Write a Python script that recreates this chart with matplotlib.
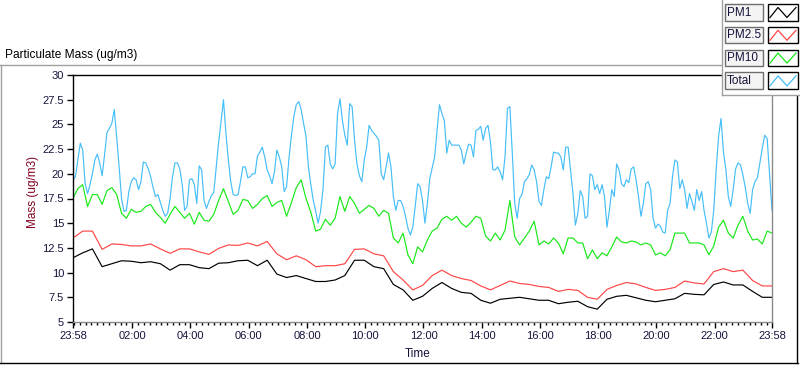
import numpy as np
import matplotlib.pyplot as plt
from matplotlib.lines import Line2D
from matplotlib.patches import Rectangle

plt.rcParams['font.family'] = ['Liberation Sans', 'DejaVu Sans']

# values, x = minutes after 23:58
# Total: one value every 5 minutes (12 per hour)
total = [
    19.4, 19.7, 21.4, 23.1, 22.4, 19.0, 18.0, 18.9, 20.0, 21.4, 22.0, 21.1,
    19.8, 21.9, 24.2, 24.6, 25.1, 26.5, 23.7, 20.7, 17.5, 16.2, 16.3, 18.2,
    19.2, 19.6, 19.4, 18.4, 19.2, 21.2, 21.1, 20.5, 19.7, 18.6, 17.7, 17.9,
    17.1, 16.3, 15.7, 16.0, 17.5, 19.7, 21.1, 21.1, 20.5, 18.9, 16.3, 16.7,
    19.4, 19.5, 18.9, 17.0, 20.8, 20.4, 17.3, 16.5, 17.2, 17.8, 18.1, 20.7,
    23.2, 25.3, 27.5, 24.1, 21.4, 19.2, 17.9, 17.8, 17.9, 19.2, 20.7, 20.7,
    19.6, 19.7, 20.0, 20.0, 21.8, 22.2, 22.7, 21.7, 20.4, 19.8, 19.0, 20.2,
    22.4, 21.7, 20.7, 18.2, 18.7, 21.6, 23.9, 25.8, 27.0, 27.3, 26.5, 25.1,
    23.8, 20.7, 18.9, 17.3, 16.2, 15.0, 16.2, 18.4, 22.7, 22.9, 21.0, 20.5,
    21.0, 26.1, 27.6, 25.4, 23.9, 22.9, 27.1, 26.8, 23.4, 21.0, 19.8, 19.2,
    21.4, 22.7, 24.9, 24.4, 24.1, 23.8, 23.4, 20.0, 19.4, 20.7, 22.1, 20.7,
    17.7, 16.3, 17.3, 17.3, 16.7, 15.7, 14.5, 13.8, 14.6, 16.7, 19.0, 18.7,
    17.3, 15.0, 17.0, 19.5, 20.6, 21.7, 24.3, 27.0, 26.1, 25.4, 22.1, 23.4,
    22.9, 22.9, 22.9, 22.9, 22.4, 21.0, 22.1, 23.0, 22.9, 21.7, 24.4, 24.5,
    24.8, 23.4, 24.6, 24.9, 23.2, 20.4, 20.4, 20.7, 20.2, 19.4, 21.7, 26.6,
    26.8, 22.1, 17.0, 15.5, 17.5, 17.9, 19.2, 19.5, 19.9, 20.9, 20.4, 19.2,
    17.2, 16.8, 18.4, 19.7, 19.5, 20.7, 22.2, 22.1, 22.1, 21.7, 20.4, 22.7,
    22.7, 20.4, 18.0, 14.8, 16.0, 18.3, 17.7, 15.5, 15.7, 20.0, 19.8, 18.4,
    18.9, 18.0, 18.9, 17.7, 14.6, 16.3, 18.4, 17.7, 21.0, 20.4, 19.0, 18.7,
    19.4, 19.1, 20.5, 20.7, 19.4, 17.7, 15.7, 17.0, 19.0, 19.2, 18.4, 15.5,
    14.5, 14.9, 14.7, 14.1, 14.0, 16.3, 17.0, 19.7, 21.4, 21.2, 18.5, 19.4,
    18.4, 16.5, 18.0, 17.2, 16.3, 18.4, 17.3, 18.2, 16.3, 15.0, 13.5, 14.1,
    16.3, 20.4, 23.8, 25.6, 22.2, 20.4, 17.7, 16.7, 18.4, 20.5, 21.1, 20.9,
    19.9, 18.6, 17.0, 16.0, 18.4, 19.2, 19.6, 21.1, 22.6, 23.9, 23.6, 20.0,
    16.3,
]

# PM10: one value every 10 minutes
pm10 = [
    17.5, 18.5, 18.9, 16.7, 17.9, 17.9,
    16.9, 18.3, 18.6, 17.9, 16.0, 15.5,
    16.4, 16.1, 16.2, 16.7, 16.9, 16.1,
    15.6, 15.0, 15.9, 16.7, 16.1, 15.5,
    16.0, 14.9, 16.1, 15.3, 15.2, 15.9,
    17.3, 18.5, 17.2, 15.9, 16.3, 17.4,
    17.3, 16.5, 16.9, 17.5, 17.8, 16.7,
    17.1, 17.3, 15.7, 17.1, 18.6, 19.4,
    17.5, 16.1, 14.2, 14.4, 15.4, 14.8,
    15.5, 17.7, 16.2, 17.7, 17.0, 16.0,
    16.4, 16.8, 16.5, 15.7, 16.3, 16.0,
    13.5, 13.0, 14.0, 11.8, 10.9, 12.6,
    12.1, 13.3, 14.2, 14.5, 15.4, 15.7,
    15.3, 15.7, 15.0, 14.6, 15.1, 15.7,
    15.5, 13.7, 13.2, 14.0, 13.3, 14.3,
    17.3, 13.6, 12.8, 13.5, 14.2, 15.2,
    12.8, 13.2, 12.9, 13.5, 13.0, 11.9,
    13.5, 13.5, 13.0, 13.0, 11.4, 12.3,
    11.4, 12.0, 11.7, 12.6, 13.6, 13.1,
    13.0, 13.2, 13.1, 12.8, 13.0, 12.8,
    11.8, 12.0, 11.7, 12.3, 14.0, 14.0,
    14.0, 13.0, 13.0, 13.0, 12.8, 11.8,
    12.7, 14.6, 15.3, 14.0, 13.5, 14.8,
    15.7, 14.2, 13.3, 13.4, 12.9, 14.2,
    14.0,
]

# PM2.5 and PM1: one value every 20 minutes
pm25 = [
    13.5, 14.2, 14.2, 12.35, 12.9, 12.85, 12.7, 12.7, 12.9,
    12.4, 11.95, 12.4, 12.4, 12.1, 11.85, 12.45, 12.8, 12.75,
    13.0, 12.7, 13.15, 11.9, 11.3, 11.7, 11.3, 10.6, 10.7,
    10.7, 10.9, 12.35, 12.4, 11.9, 11.7, 10.1, 9.25, 8.25,
    8.7, 9.7, 10.25, 9.7, 9.4, 9.2, 8.65, 8.25, 8.7,
    9.15, 8.9, 8.8, 8.6, 8.5, 8.1, 8.3, 8.2, 7.5,
    7.3, 8.3, 8.7, 9.0, 8.85, 8.5, 8.2, 8.3, 8.5,
    9.15, 8.95, 8.85, 10.1, 10.4, 10.1, 10.25, 9.2, 8.65,
    8.65,
]
pm1 = [
    11.5, 12.0, 12.4, 10.6, 10.9, 11.2, 11.15, 11.0, 11.1,
    10.9, 10.25, 10.8, 10.8, 10.5, 10.4, 10.95, 11.0, 11.2,
    11.25, 10.7, 11.25, 9.85, 9.5, 9.7, 9.4, 9.1, 9.1,
    9.25, 9.7, 11.25, 11.25, 10.6, 10.4, 8.8, 8.25, 7.2,
    7.6, 8.4, 9.0, 8.4, 8.0, 7.9, 7.2, 6.9, 7.3,
    7.4, 7.5, 7.35, 7.2, 7.2, 6.85, 7.0, 7.1, 6.55,
    6.3, 7.3, 7.6, 7.7, 7.45, 7.2, 7.05, 7.2, 7.35,
    7.9, 7.8, 7.75, 8.8, 9.05, 8.75, 8.75, 8.1, 7.5,
    7.5,
]

t_total = np.arange(len(total)) * 5
t_pm10 = np.arange(len(pm10)) * 10
t_pm25 = np.arange(len(pm25)) * 20
t_pm1 = np.arange(len(pm1)) * 20

tick_min = [0, 122, 242, 362, 482, 602, 722, 842, 962, 1082, 1202, 1322, 1440]
tick_lab = ['23:58', '02:00', '04:00', '06:00', '08:00', '10:00', '12:00',
            '14:00', '16:00', '18:00', '20:00', '22:00', '23:58']
y_ticks = [5, 7.5, 10, 12.5, 15, 17.5, 20, 22.5, 25, 27.5, 30]

c_pm1 = '#000000'
c_pm25 = '#ff4646'
c_pm10 = '#18e818'
c_total = '#46bef8'

W, H = 800, 365


def fx(x):
    return x / W


def fy(y):
    return 1 - y / H


fig = plt.figure(figsize=(W / 100, H / 100), dpi=100)
ax = fig.add_axes([fx(73), fy(322), 699 / W, 247 / H])

ax.plot(t_total, total, color=c_total, lw=0.85)
ax.plot(t_pm10, pm10, color=c_pm10, lw=0.85)
ax.plot(t_pm25, pm25, color=c_pm25, lw=0.85)
ax.plot(t_pm1, pm1, color=c_pm1, lw=0.85)

ax.set_xlim(0, 1440)
ax.set_ylim(5, 30)
ax.set_xticks(tick_min)
ax.set_xticklabels(tick_lab)
ax.set_xticks([m for m in range(2, 1440, 12) if m not in tick_min], minor=True)
ax.set_yticks(y_ticks)
ax.set_yticklabels(['%g' % v for v in y_ticks])

ax.tick_params(axis='both', which='major', direction='out', length=4.5,
               width=1, labelsize=8, pad=2, labelcolor='#14143c')
ax.tick_params(axis='x', which='minor', direction='out', length=2.5, width=1)

for side in ['left', 'top']:
    ax.spines[side].set_color('black')
for side in ['right', 'bottom']:
    ax.spines[side].set_color('#8a8a8a')
for s in ax.spines.values():
    s.set_linewidth(1)

fig.text(fx(5), fy(55), 'Particulate Mass (ug/m3)', ha='left', va='center', fontsize=8.6)
fig.text(fx(33), fy(192), 'Mass (ug/m3)', rotation=90, ha='center', va='center',
         fontsize=8.5, color='#800020')
fig.text(fx(418), fy(354), 'Time', ha='center', va='center', fontsize=8.5,
         color='#14143c')

# outer panel frame
frame = [
    ([0, 722], [65, 65], '#a0a0a0'),
    ([1, 1], [65, 363], '#a0a0a0'),
    ([0, 798], [363, 363], 'black'),
    ([797, 797], [95, 363], 'black'),
]
for xs, ys, col in frame:
    fig.add_artist(Line2D([fx(v) for v in xs], [fy(v) for v in ys], color=col, lw=1))

# legend panel
fig.add_artist(Rectangle((fx(722), fy(95)), 78 / W, 95 / H, transform=fig.transFigure,
                         facecolor='white', edgecolor='none', zorder=3))
fig.add_artist(Line2D([fx(722), fx(722)], [fy(0), fy(95)], color='#a0a0a0', lw=1, zorder=4))
fig.add_artist(Line2D([fx(722), fx(800)], [fy(95), fy(95)], color='#a0a0a0', lw=1, zorder=4))

legend_rows = [('PM1', c_pm1), ('PM2.5', c_pm25), ('PM10', c_pm10), ('Total', c_total)]
for i, (name, col) in enumerate(legend_rows):
    top = 4 + i * 22.8
    fig.add_artist(Rectangle((fx(725), fy(top + 16.5)), 38 / W, 16.5 / H,
                             transform=fig.transFigure, facecolor='#f4f4f4',
                             edgecolor='#6e6e6e', lw=1, zorder=5))
    fig.text(fx(727), fy(top + 8.5), name, ha='left', va='center', fontsize=8.5,
             color='#14143c', zorder=6)
    fig.add_artist(Rectangle((fx(768), fy(top + 16.5)), 30 / W, 16.5 / H,
                             transform=fig.transFigure, facecolor='white',
                             edgecolor='black', lw=1, zorder=5))
    zx = [770, 778, 787, 796]
    zy = [top + 13.5, top + 3.5, top + 13.5, top + 3.5]
    fig.add_artist(Line2D([fx(v) for v in zx], [fy(v) for v in zy], color=col,
                          lw=0.9, zorder=6))

fig.savefig('out.png', dpi=100)
